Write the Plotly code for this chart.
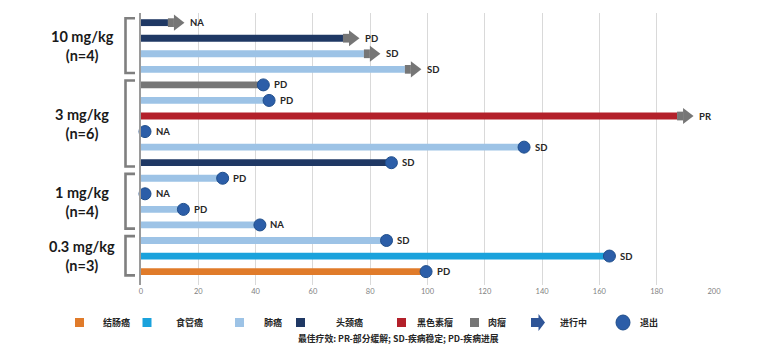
import plotly.graph_objects as go

# ---------------- data ----------------
groups = ["10 mg/kg", "3 mg/kg", "1 mg/kg", "0.3 mg/kg"]
group_n = [4, 6, 4, 3]

cancer_types = ["结肠癌", "食管癌", "肺癌", "头颈癌", "黑色素瘤", "肉瘤"]
type_colors = ["#E07B2A", "#1AA2DC", "#9DC3E6", "#1F3864", "#B3202A", "#767676"]

row_cancer = ["头颈癌", "头颈癌", "肺癌", "肺癌",
              "肉瘤", "肺癌", "黑色素瘤", "肺癌", "肺癌", "头颈癌",
              "肺癌", "肺癌", "肺癌", "肺癌",
              "肺癌", "食管癌", "结肠癌"]
row_weeks = [9.4, 70.5, 77.8, 92.1,
             42.7, 44.7, 187.1, 1.4, 133.7, 87.4,
             28.5, 1.4, 14.8, 41.5,
             85.7, 163.5, 99.5]
row_ongoing = [True, True, True, True,
               False, False, True, False, False, False,
               False, False, False, False,
               False, False, False]
row_response = ["NA", "PD", "SD", "SD",
                "PD", "PD", "PR", "NA", "SD", "SD",
                "PD", "NA", "PD", "NA",
                "SD", "SD", "PD"]

x_ticks = [0, 20, 40, 60, 80, 100, 120, 140, 160, 180, 200]
status_labels = ["进行中", "退出"]
footnote = "最佳疗效: PR-部分缓解; SD-疾病稳定; PD-疾病进展"

# ---------------- geometry helpers ----------------
W, H = 780, 355
L, R, T, B = 141, 714, 13, 285
upp = (x_ticks[-1] - x_ticks[0]) / (R - L)  # data units per pixel


def pxx(px):
    return (px - L) / (R - L)


def pxy(py):
    return (B - py) / (B - T)


ARROW_GRAY = "#767676"
DOT_BLUE = "#2C5EA8"
DOT_EDGE = "#1F4E8C"
LEGEND_ARROW = "#2F5597"

rows = list(range(len(row_weeks)))
fig = go.Figure()

# main bars by cancer type
for ct, col in zip(cancer_types, type_colors):
    idx = [i for i in rows if row_cancer[i] == ct]
    if not idx:
        continue
    fig.add_trace(go.Bar(
        orientation="h", y=idx, x=[row_weeks[i] for i in idx],
        base=0, width=0.44, marker=dict(color=col, line=dict(width=0)),
        name=ct, showlegend=False, hoverinfo="skip"))

# ongoing arrows: shaft + head
on_idx = [i for i in rows if row_ongoing[i]]
shaft_px = 6
head_size = 14
fig.add_trace(go.Bar(
    orientation="h", y=on_idx, x=[shaft_px * upp] * len(on_idx),
    base=[row_weeks[i] for i in on_idx], width=0.56,
    marker=dict(color=ARROW_GRAY, line=dict(width=0)),
    showlegend=False, hoverinfo="skip"))
fig.add_trace(go.Scatter(
    y=on_idx,
    x=[row_weeks[i] + (shaft_px + head_size / 4) * upp for i in on_idx],
    mode="markers",
    marker=dict(symbol="triangle-right", size=head_size, color=ARROW_GRAY,
                line=dict(width=0)),
    cliponaxis=False, showlegend=False, hoverinfo="skip"))

# withdrawn dots
off_idx = [i for i in rows if not row_ongoing[i]]
fig.add_trace(go.Scatter(
    y=off_idx, x=[row_weeks[i] for i in off_idx], mode="markers",
    marker=dict(symbol="circle", size=12, color=DOT_BLUE,
                line=dict(width=1, color=DOT_EDGE)),
    cliponaxis=False, showlegend=False, hoverinfo="skip"))

annotations = []
shapes = []

# response labels
for i in rows:
    annotations.append(dict(
        x=row_weeks[i], y=i, xref="x", yref="y",
        text=row_response[i], showarrow=False,
        xanchor="left", yanchor="middle",
        xshift=20 if row_ongoing[i] else 8.5,
        font=dict(family="Lato, Open Sans, sans-serif", size=9.5,
                  color="#262626", weight="bold")))

# group brackets and labels
start = 0
for g, n in zip(groups, group_n):
    first, last = start, start + n - 1
    y0, y1 = first - 0.28, last + 0.24
    x_in, x_out = pxx(135), pxx(125.5)
    shapes.append(dict(
        type="path", xref="paper", yref="y",
        path=f"M {x_in},{y0} L {x_out},{y0} L {x_out},{y1} L {x_in},{y1}",
        line=dict(color="#7F7F7F", width=2.6)))
    annotations.append(dict(
        x=pxx(82), y=(first + last) / 2, xref="paper", yref="y",
        text=f"{g}<br>(n={n})", showarrow=False,
        xanchor="center", yanchor="middle", align="center",
        font=dict(family="Lato, Open Sans, sans-serif", size=14.5,
                  color="#1A1A1A", weight="bold")))
    start += n

# manual legend
leg_y = pxy(322.5)
leg_font = dict(family="Noto Sans CJK SC, sans-serif", size=9,
                color="#262626", weight="bold")
sq_x = [79.5, 147, 239.5, 300.5, 401.5, 474.5]
sq_lab_x = [100.5, 173.5, 261.5, 333.5, 415, 486]
for ct, col, cx, lx in zip(cancer_types, type_colors, sq_x, sq_lab_x):
    shapes.append(dict(
        type="rect", xref="paper", yref="paper",
        xsizemode="pixel", ysizemode="pixel",
        xanchor=pxx(cx), yanchor=leg_y,
        x0=-4.5, x1=4.5, y0=-4.5, y1=4.5,
        fillcolor=col, line=dict(width=0)))
    annotations.append(dict(
        x=pxx(lx), y=leg_y, xref="paper", yref="paper", text=ct,
        showarrow=False, xanchor="left", yanchor="middle", font=leg_font))

# arrow icon
shapes.append(dict(
    type="path", xref="paper", yref="paper",
    xsizemode="pixel", ysizemode="pixel",
    xanchor=pxx(538), yanchor=leg_y,
    path="M -7,-4.5 L 0.5,-4.5 L 0.5,-8.5 L 7,0 L 0.5,8.5 L 0.5,4.5 L -7,4.5 Z",
    fillcolor=LEGEND_ARROW, line=dict(width=0)))
annotations.append(dict(
    x=pxx(558), y=leg_y, xref="paper", yref="paper", text=status_labels[0],
    showarrow=False, xanchor="left", yanchor="middle", font=leg_font))
# dot icon
shapes.append(dict(
    type="circle", xref="paper", yref="paper",
    xsizemode="pixel", ysizemode="pixel",
    xanchor=pxx(623), yanchor=leg_y,
    x0=-7, x1=7, y0=-7.5, y1=7.5,
    fillcolor=DOT_BLUE, line=dict(width=1, color=DOT_EDGE)))
annotations.append(dict(
    x=pxx(637.5), y=leg_y, xref="paper", yref="paper", text=status_labels[1],
    showarrow=False, xanchor="left", yanchor="middle", font=leg_font))

# footnote
annotations.append(dict(
    x=pxx(398), y=pxy(338.5), xref="paper", yref="paper", text=footnote,
    showarrow=False, xanchor="center", yanchor="middle",
    font=dict(family="Noto Sans CJK SC, sans-serif", size=8.8,
              color="#262626", weight="bold")))

fig.update_layout(
    width=W, height=H,
    margin=dict(l=L, r=W - R, t=T, b=H - B, pad=0),
    paper_bgcolor="white", plot_bgcolor="white",
    barmode="overlay", showlegend=False,
    shapes=shapes, annotations=annotations,
    xaxis=dict(range=[x_ticks[0], x_ticks[-1]], tickvals=x_ticks,
               showgrid=True, gridcolor="#D9D9D9", gridwidth=1,
               zeroline=False, showline=False, ticks="",
               tickfont=dict(family="Lato, Open Sans, sans-serif", size=7.5,
                             color="#7F7F7F"),
               fixedrange=True),
    yaxis=dict(range=[len(rows) - 0.14, -0.62], showgrid=False,
               zeroline=False, showticklabels=False, ticks="",
               showline=True, linecolor="#9A9A9A", linewidth=1.5,
               fixedrange=True),
)

fig.write_html(
    "out.html",
    config={"displayModeBar": False},
    post_script="document.body.style.margin='0';document.body.style.overflow='hidden';",
)
